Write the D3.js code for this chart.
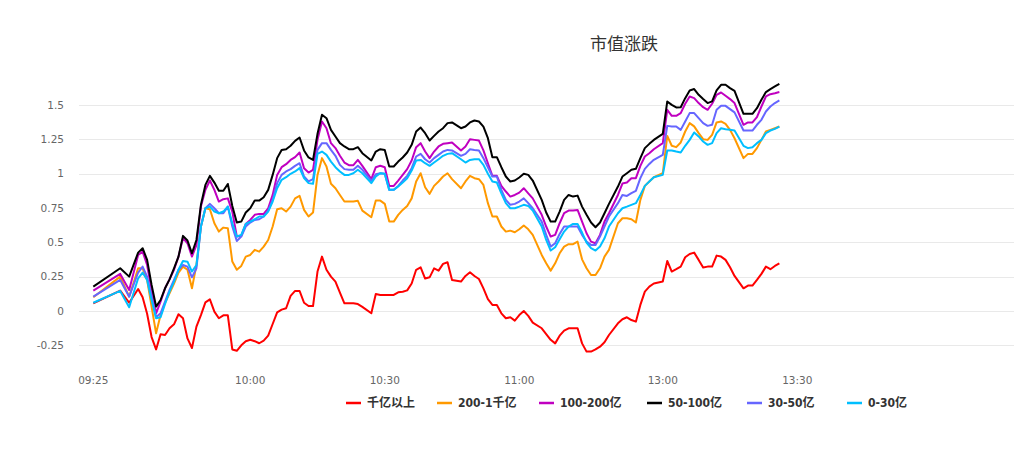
<!DOCTYPE html>
<html><head><meta charset="utf-8">
<script src="https://cdn.jsdelivr.net/npm/d3@7/dist/d3.min.js"></script>
<style>html,body{margin:0;padding:0;background:#fff;}svg{display:block;}</style>
</head><body><svg id="c" width="1014" height="452"></svg>
<script>
const title = "市值涨跌";
const seriesNames = ["千亿以上","200-1千亿","100-200亿","50-100亿","30-50亿","0-30亿"];
const seriesColors = ["#ff0000","#ff9900","#c000c0","#000000","#6666ff","#00bfff"];
const xTickLabels = ["09:25","10:00","10:30","11:00","13:00","13:30"];
const yTicks = [-0.25,0,0.25,0.5,0.75,1,1.25,1.5];
const times = ["09:25","09:31","09:33","09:35","09:36","09:37","09:38","09:39","09:40","09:41","09:42","09:43","09:44","09:45","09:46","09:47","09:48","09:49","09:50","09:51","09:52","09:53","09:54","09:55","09:56","09:57","09:58","09:59","10:00","10:01","10:02","10:03","10:04","10:05","10:06","10:07","10:08","10:09","10:10","10:11","10:12","10:13","10:14","10:15","10:16","10:17","10:18","10:19","10:20","10:21","10:22","10:23",
"10:24","10:25","10:27","10:28","10:29","10:30","10:31","10:32","10:33","10:34","10:35","10:36","10:37","10:38","10:39","10:40","10:41","10:42","10:43","10:44","10:45","10:47","10:48","10:49","10:50","10:51","10:52","10:53","10:54","10:55","10:56","10:57","10:58","10:59","11:00","11:01","11:02","11:03","11:05","11:06","11:07","11:08","11:09","11:10","11:11","11:12","11:13","11:14","11:15","11:16","11:17","11:18","11:19","11:20","11:22","11:23",
"11:24","11:25","11:26","11:27","11:28","11:29","11:30","13:00","13:01","13:02","13:03","13:04","13:05","13:06","13:07","13:08","13:09","13:10","13:11","13:12","13:13","13:14","13:15","13:16","13:18","13:19","13:20","13:21","13:22","13:23","13:24","13:25","13:26"];

const capOver1000 = [0.056,0.148,0.06,0.16,0.10,-0.02,-0.19,-0.28,-0.17,-0.175,-0.126,-0.097,-0.024,-0.053,-0.20,-0.27,-0.114,-0.03,0.063,0.085,-0.005,-0.053,-0.032,-0.032,-0.28,-0.29,-0.25,-0.22,-0.21,-0.22,-0.235,-0.216,-0.18,-0.095,-0.01,0.01,0.02,0.11,0.146,0.146,0.06,0.036,0.036,0.287,0.396,0.30,0.25,0.214,0.134,0.056,0.056,0.056,
0.05,0.03,-0.017,0.124,0.117,0.117,0.117,0.117,0.136,0.14,0.15,0.2,0.30,0.318,0.236,0.245,0.31,0.294,0.343,0.355,0.226,0.214,0.255,0.282,0.255,0.233,0.165,0.087,0.044,0.044,-0.017,-0.053,-0.046,-0.07,-0.03,0.0,-0.036,-0.085,-0.126,-0.168,-0.21,-0.236,-0.18,-0.143,-0.126,-0.126,-0.126,-0.236,-0.296,-0.296,-0.28,-0.26,-0.228,-0.175,-0.09,-0.06,
-0.046,-0.066,-0.078,0.044,0.141,0.177,0.2,0.214,0.364,0.287,0.304,0.323,0.391,0.415,0.425,0.372,0.316,0.323,0.323,0.403,0.396,0.372,0.318,0.255,0.165,0.185,0.185,0.226,0.27,0.323,0.304,0.328,0.347];

const cap200to1000 = [0.10,0.25,0.104,0.311,0.311,0.226,0.032,-0.163,-0.03,0.06,0.129,0.20,0.28,0.323,0.30,0.165,0.335,0.615,0.748,0.741,0.639,0.578,0.607,0.603,0.36,0.30,0.328,0.396,0.408,0.445,0.432,0.469,0.517,0.615,0.741,0.748,0.724,0.76,0.82,0.838,0.736,0.688,0.717,0.991,1.113,1.052,0.926,0.894,0.845,0.797,0.797,0.797,
0.802,0.731,0.683,0.804,0.804,0.78,0.651,0.651,0.70,0.736,0.765,0.82,0.943,1.003,0.901,0.853,0.911,0.943,0.979,1.003,0.96,0.894,0.943,0.984,0.967,0.96,0.918,0.785,0.688,0.688,0.615,0.578,0.585,0.573,0.595,0.622,0.595,0.554,0.408,0.347,0.294,0.347,0.42,0.469,0.486,0.486,0.505,0.376,0.311,0.262,0.262,0.311,0.396,0.445,0.639,0.675,
0.675,0.668,0.644,0.809,0.911,0.943,0.974,1.003,1.275,1.203,1.193,1.227,1.307,1.368,1.344,1.295,1.251,1.246,1.283,1.373,1.38,1.363,1.319,1.258,1.113,1.144,1.144,1.186,1.246,1.307,1.319,1.331,1.343];

const cap100to200 = [0.148,0.27,0.153,0.408,0.432,0.335,0.153,-0.017,0.068,0.165,0.23,0.30,0.396,0.53,0.493,0.396,0.48,0.76,0.882,0.95,0.882,0.797,0.814,0.82,0.724,0.542,0.547,0.634,0.663,0.70,0.707,0.707,0.748,0.845,0.991,1.047,1.069,1.10,1.12,1.154,1.04,1.008,1.028,1.246,1.38,1.331,1.222,1.186,1.13,1.081,1.062,1.062,
1.10,1.057,0.96,1.047,1.057,1.047,0.911,0.911,0.95,0.991,1.033,1.096,1.193,1.222,1.161,1.113,1.161,1.198,1.217,1.222,1.227,1.169,1.198,1.251,1.246,1.241,1.169,1.076,0.984,0.984,0.911,0.87,0.833,0.845,0.862,0.894,0.857,0.82,0.70,0.615,0.542,0.554,0.639,0.712,0.731,0.731,0.736,0.651,0.566,0.505,0.493,0.554,0.651,0.712,0.845,0.928,
0.935,0.967,0.967,1.057,1.125,1.149,1.178,1.222,1.465,1.421,1.421,1.441,1.509,1.562,1.55,1.514,1.484,1.465,1.509,1.574,1.591,1.567,1.543,1.514,1.356,1.373,1.373,1.412,1.489,1.562,1.579,1.586,1.594];

const cap50to100 = [0.177,0.311,0.25,0.425,0.457,0.372,0.19,0.032,0.08,0.165,0.23,0.311,0.396,0.547,0.513,0.42,0.517,0.773,0.918,0.984,0.935,0.875,0.875,0.925,0.765,0.644,0.651,0.717,0.748,0.804,0.804,0.828,0.882,0.991,1.113,1.173,1.178,1.203,1.239,1.263,1.169,1.118,1.10,1.29,1.429,1.404,1.319,1.271,1.222,1.198,1.178,1.178,
1.193,1.149,1.096,1.161,1.178,1.173,1.052,1.052,1.088,1.118,1.154,1.21,1.307,1.336,1.295,1.241,1.275,1.307,1.331,1.368,1.373,1.331,1.343,1.373,1.387,1.38,1.343,1.258,1.12,1.12,1.047,0.979,0.943,0.95,0.972,0.999,0.991,0.95,0.809,0.717,0.651,0.651,0.724,0.809,0.845,0.833,0.84,0.76,0.70,0.644,0.61,0.644,0.712,0.78,0.906,0.979,
1.003,1.028,1.035,1.113,1.186,1.217,1.246,1.29,1.526,1.501,1.482,1.484,1.55,1.606,1.616,1.574,1.543,1.514,1.526,1.606,1.647,1.647,1.623,1.603,1.436,1.436,1.436,1.477,1.538,1.594,1.616,1.635,1.654];

const cap30to50 = [0.104,0.226,0.104,0.28,0.323,0.25,0.104,-0.046,-0.017,0.068,0.153,0.226,0.30,0.335,0.323,0.245,0.311,0.615,0.748,0.78,0.748,0.712,0.712,0.76,0.615,0.51,0.542,0.615,0.644,0.663,0.668,0.688,0.731,0.809,0.931,0.991,1.016,1.033,1.057,1.076,0.979,0.943,0.96,1.173,1.222,1.222,1.173,1.13,1.064,1.033,1.028,1.028,
1.057,1.028,0.948,0.996,1.003,0.999,0.882,0.882,0.911,0.95,0.984,1.04,1.125,1.144,1.105,1.081,1.113,1.137,1.161,1.173,1.169,1.13,1.144,1.178,1.173,1.169,1.113,1.047,0.979,0.979,0.882,0.809,0.773,0.78,0.797,0.82,0.785,0.748,0.651,0.554,0.469,0.493,0.561,0.615,0.615,0.615,0.615,0.554,0.505,0.481,0.481,0.542,0.615,0.688,0.785,0.845,
0.838,0.858,0.875,0.967,1.035,1.071,1.101,1.137,1.348,1.344,1.344,1.319,1.38,1.441,1.441,1.404,1.368,1.348,1.356,1.465,1.494,1.494,1.47,1.446,1.314,1.314,1.314,1.356,1.392,1.453,1.489,1.514,1.533];

const cap0to30 = [0.06,0.146,0.027,0.238,0.28,0.226,0.08,-0.053,-0.046,0.051,0.141,0.214,0.30,0.364,0.359,0.287,0.335,0.615,0.748,0.76,0.724,0.712,0.724,0.76,0.639,0.542,0.554,0.634,0.651,0.668,0.688,0.688,0.724,0.797,0.894,0.955,0.974,0.999,1.016,1.04,0.967,0.931,0.926,1.144,1.161,1.137,1.088,1.047,1.016,0.991,0.991,1.003,
1.028,1.003,0.931,0.979,1.003,0.999,0.882,0.882,0.906,0.935,0.967,1.023,1.096,1.10,1.076,1.057,1.081,1.105,1.13,1.144,1.149,1.105,1.081,1.10,1.105,1.105,1.064,0.999,0.943,0.935,0.857,0.785,0.748,0.748,0.76,0.773,0.765,0.731,0.615,0.517,0.44,0.464,0.522,0.578,0.615,0.634,0.634,0.571,0.498,0.457,0.44,0.469,0.529,0.615,0.712,0.748,
0.76,0.773,0.785,0.845,0.911,0.943,0.974,0.991,1.169,1.169,1.161,1.154,1.203,1.246,1.30,1.271,1.234,1.21,1.222,1.295,1.331,1.324,1.319,1.314,1.203,1.186,1.193,1.222,1.246,1.295,1.314,1.326,1.343];

const seriesValues = [capOver1000, cap200to1000, cap100to200, cap50to100, cap30to50, cap0to30];

// trading-minute slot on the axis (morning from 09:25, afternoon after the lunch gap)
function slotOf(t){
  const [h,m] = t.split(":").map(Number);
  const mins = h*60+m;
  return mins < 12*60 ? mins - (9*60+25) : 127 + mins - 13*60;
}

const svg = d3.select("#c");
const x = d3.scaleLinear().domain([slotOf("09:25"), slotOf("13:30")]).range([93.3, 797.3]);
const y = d3.scaleLinear().domain([-0.25, 1.5]).range([345.3, 105]);
const gridLeft = 79, gridRight = 1014;

// grid
svg.append("g").selectAll("line").data(yTicks).join("line")
  .attr("x1", gridLeft).attr("x2", gridRight)
  .attr("y1", d => Math.round(y(d)) + 0.5).attr("y2", d => Math.round(y(d)) + 0.5)
  .attr("stroke", "#e9e9e9").attr("stroke-width", 1);

// y labels
const fmt = d => d === 0 ? "0" : String(d);
svg.append("g").selectAll("text").data(yTicks).join("text")
  .attr("x", 64).attr("y", d => y(d)).attr("dy", "0.35em")
  .attr("text-anchor", "end")
  .attr("font-family", "'DejaVu Sans', sans-serif").attr("font-size", 10.5)
  .attr("fill", "#666").text(fmt);

// x labels
svg.append("g").selectAll("text").data(xTickLabels).join("text")
  .attr("x", d => x(slotOf(d))).attr("y", 384)
  .attr("text-anchor", "middle")
  .attr("font-family", "'DejaVu Sans', sans-serif").attr("font-size", 10.5)
  .attr("fill", "#666").text(d => d);

// lines
const line = d3.line().x(d => x(slotOf(d[0]))).y(d => y(d[1]));
seriesValues.forEach((vals, si) => {
  const pts = times.map((t, i) => [t, vals[i]]);
  svg.append("path").datum(pts)
    .attr("d", line).attr("fill", "none")
    .attr("stroke", seriesColors[si]).attr("stroke-width", 2)
    .attr("stroke-linejoin", "round");
});

// title
svg.append("text").attr("x", 624).attr("y", 50).attr("text-anchor", "middle")
  .attr("font-family", "'Noto Sans CJK SC', sans-serif").attr("font-size", 17)
  .attr("fill", "#333").text(title);

// legend
const legendX = [346, 437, 539, 647, 747, 847];
const lg = svg.append("g").selectAll("g").data(seriesNames).join("g")
  .attr("transform", (d, i) => `translate(${legendX[i]},403)`);
lg.append("line").attr("x1", 0).attr("x2", 15).attr("y1", 0).attr("y2", 0)
  .attr("stroke", (d, i) => seriesColors[i]).attr("stroke-width", 2.5);
lg.append("text").attr("x", 21).attr("y", 0).attr("dy", "0.35em")
  .attr("font-family", "'DejaVu Sans Condensed', 'Noto Sans CJK SC', sans-serif").attr("font-size", 12)
  .attr("font-weight", "bold")
  .attr("fill", "#333").text(d => d);
</script>
</body></html>
